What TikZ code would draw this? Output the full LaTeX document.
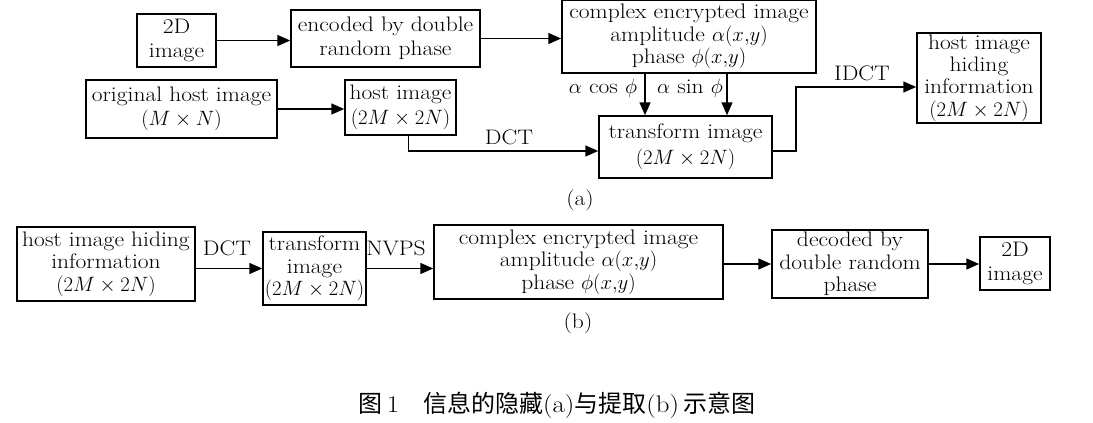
\documentclass[tikz,border=0pt]{standalone}
\usepackage{fontspec}
\setmainfont{Latin Modern Roman}[FakeStretch=1.12]
\newfontfamily\cjk{Noto Sans CJK SC}
\usetikzlibrary{arrows.meta,calc}
\begin{document}
\begin{tikzpicture}[x=1pt,y=-1pt,
  box/.style={draw,line width=1.5pt,inner sep=0pt,align=center,font=\fontsize{21}{22.3}\selectfont},
  twoline/.style={font=\fontsize{21}{24.5}\selectfont},
  lbl/.style={inner sep=0pt,font=\fontsize{21}{22.3}\selectfont},
  arr/.style={line width=1.5pt,-{Triangle[length=13pt,width=11pt]}}]
\useasboundingbox (0,0) rectangle (1093,423);
% (a)
\node[box,twoline,minimum width=79pt,minimum height=53pt] (n2d) at (176.5,40.5) {2D\\image};
\node[box,twoline,minimum width=189pt,minimum height=57pt] (enc) at (385.5,38.5) {encoded by double\\random phase};
\node[box,minimum width=254pt,minimum height=73pt] (cplx) at (689,36.5) {complex encrypted image\\amplitude $\alpha(x{,}y)$\\phase $\phi(x{,}y)$};
\node[box,twoline,minimum width=191pt,minimum height=58pt] (orig) at (181.5,109) {original host image\\$(M\times N)$};
\node[box,twoline,minimum width=111pt,minimum height=55pt] (host) at (400.5,107.5) {host image\\$(2M\times 2N)$};
\node[box,twoline,minimum width=173pt,minimum height=62pt,font=\fontsize{21}{26}\selectfont] (trans) at (685.5,147) {transform image\\$(2M\times 2N)$};
\node[box,minimum width=124pt,minimum height=90pt] (hid) at (979,78) {host image\\hiding\\information\\$(2M\times 2N)$};
\node[lbl] (la) at (580,200) {(a)};
\draw[arr] (n2d.east) -- (n2d.east -| enc.west);
\draw[arr] (enc.east) -- (enc.east -| cplx.west);
\draw[arr] (orig.east) -- (orig.east -| host.west);
\coordinate (hs) at ([xshift=8pt]host.south);
\coordinate (tw) at ([yshift=-4pt]trans.west);
\draw[arr] (hs) |- (tw);
\node[lbl] (ldct) at (509,137) {DCT};
\coordinate (c1) at ([xshift=-44pt]cplx.south);
\coordinate (c2) at ([xshift=38pt]cplx.south);
\draw[arr] (c1) -- (c1 |- trans.north);
\draw[arr] (c2) -- (c2 |- trans.north);
\node[lbl] (lcos) at (603,88) {$\alpha$ cos $\phi$};
\node[lbl] (lsin) at (690,88) {$\alpha$ sin $\phi$};
\coordinate (te) at ([yshift=-4pt]trans.east);
\coordinate (hw) at ([yshift=-9pt]hid.west);
\draw[arr] (te) -- ++(23,0) |- (hw);
\node[lbl] (lidct) at (862,73) {IDCT};
% (b)
\node[box,minimum width=178pt,minimum height=74pt] (b1) at (106,264) {host image hiding\\information\\$(2M\times 2N)$};
\node[box,minimum width=103pt,minimum height=73pt] (b2) at (314.5,268.5) {transform\\image\\$(2M\times 2N)$};
\node[box,minimum width=289pt,minimum height=74pt] (b3) at (578.5,262) {complex encrypted image\\amplitude $\alpha(x{,}y)$\\phase $\phi(x{,}y)$};
\node[box,minimum width=156pt,minimum height=68pt] (b4) at (850,264) {decoded by\\double random\\phase};
\node[box,twoline,minimum width=70pt,minimum height=53pt] (b5) at (1015,263.5) {2D\\image};
\node[lbl] (lb) at (578,323) {(b)};
\draw[arr] (b1.east |- b2.west) -- (b2.west);
\node[lbl] (ldct2) at (227,248) {DCT};
\draw[arr] (b2.east) -- (b2.east -| b3.west);
\node[lbl] (lnvps) at (396,248) {NVPS};
\draw[arr] (b3.east |- b4.west) -- (b4.west);
\draw[arr] (b4.east) -- (b4.east -| b5.west);
% caption
\node[inner sep=0pt,font=\fontsize{24}{26}\selectfont] (cap) at (557,405) {{\cjk 图}\,1\quad{\cjk 信息的隐藏}(a){\cjk 与提取}(b)\,{\cjk 示意图}};
\end{tikzpicture}
\end{document}
